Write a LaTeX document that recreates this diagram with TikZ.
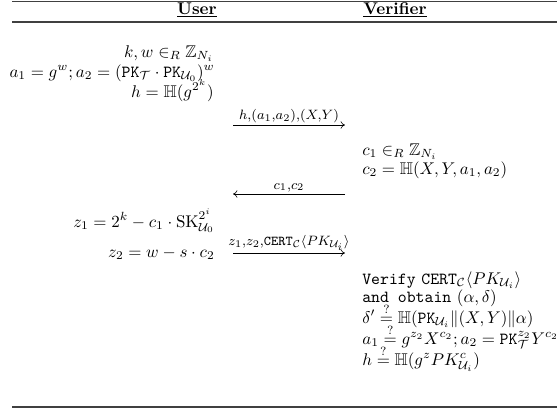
\documentclass[tikz,border=0pt]{standalone}
\usepackage{amsmath}
\usepackage{amssymb}
\usepackage{tikz}
\usetikzlibrary{positioning,arrows.meta}

\begin{document}
\begin{tikzpicture}[
    x=0.59pt, y=-0.59pt,
    head/.style={inner sep=0pt, font=\bfseries},
    lhs/.style={anchor=base east, inner sep=0pt},
    rhs/.style={anchor=base west, inner sep=0pt},
    rulebar/.style={line width=0.8pt, black!75},
    msg/.style={-{To[length=0.9mm,width=1.5mm]}, line width=0.35pt},
    lbl/.style={inner sep=1.2pt, font=\large}
  ]
    \useasboundingbox (0,0) rectangle (558,409);

    % table rules
    \coordinate (tl) at (12,1.5);
    \coordinate (tr) at (557,1.5);
    \coordinate (ml) at (12,22);
    \coordinate (mr) at (557,22);
    \coordinate (bl) at (12,407);
    \coordinate (br) at (557,407);
    \draw[rulebar] (tl) -- (tr);
    \draw[rulebar] (ml) -- (mr);
    \draw[rulebar] (bl) -- (br);

    % headers
    \node[head, anchor=base east] (user) at (217,14) {\underline{User}};
    \node[head, anchor=base west] (verifier) at (363,14) {\underline{Verifier}};

    % user side
    \node[lhs] (u1) at (214,57) {$k,w \in_R \mathbb{Z}_{N_i}$};
    \node[lhs] (u2) at (215,77) {$a_1 = g^w; a_2 = (\mathtt{PK}_{\mathcal{T}} \cdot \mathtt{PK}_{\mathcal{U}_0})^w$};
    \node[lhs] (u3) at (214,97) {$h = \mathbb{H}(g^{2^k})$};
    \node[lhs] (u4) at (215,227) {$z_1 = 2^k - c_1 \cdot \mathrm{SK}^{2^i}_{\mathcal{U}_0}$};
    \node[lhs] (u5) at (215,257) {$z_2 = w - s \cdot c_2$};

    % verifier side
    \node[rhs] (v1) at (362,155) {$c_1 \in_R \mathbb{Z}_{N_i}$};
    \node[rhs] (v2) at (362,174) {$c_2 = \mathbb{H}(X,Y,a_1,a_2)$};
    \node[rhs] (v3) at (362,284) {\texttt{Verify} $\mathtt{CERT}_{\mathcal{C}}\langle PK_{\mathcal{U}_i}\rangle$};
    \node[rhs] (v4) at (362,302) {\texttt{and obtain} $(\alpha,\delta)$};
    \node[rhs] (v5) at (362,323) {$\delta' \stackrel{?}{=} \mathbb{H}(\mathtt{PK}_{\mathcal{U}_i} \| (X,Y) \| \alpha)$};
    \node[rhs] (v6) at (362,344) {$a_1 \stackrel{?}{=} g^{z_2}X^{c_2}; a_2 = \mathtt{PK}^{z_2}_{\mathcal{T}}Y^{c_2}$};
    \node[rhs] (v7) at (362,365) {$h \stackrel{?}{=} \mathbb{H}(g^z PK^c_{\mathcal{U}_i})$};

    % messages
    \coordinate (m1a) at (233,125);
    \coordinate (m1b) at (345,125);
    \coordinate (m2a) at (345,194);
    \coordinate (m2b) at (233,194);
    \coordinate (m3a) at (233,253);
    \coordinate (m3b) at (345,253);
    \draw[msg] (m1a) -- node[lbl, above] (l1) {$\scriptstyle h,(a_1,a_2),(X,Y)$} (m1b);
    \draw[msg] (m2a) -- node[lbl, above] (l2) {$\scriptstyle c_1,c_2$} (m2b);
    \draw[msg] (m3a) -- node[lbl, above] (l3) {$\scriptstyle z_1,z_2,\mathtt{CERT}_{\mathcal{C}}\langle PK_{\mathcal{U}_i}\rangle$} (m3b);
  \end{tikzpicture}
\end{document}
